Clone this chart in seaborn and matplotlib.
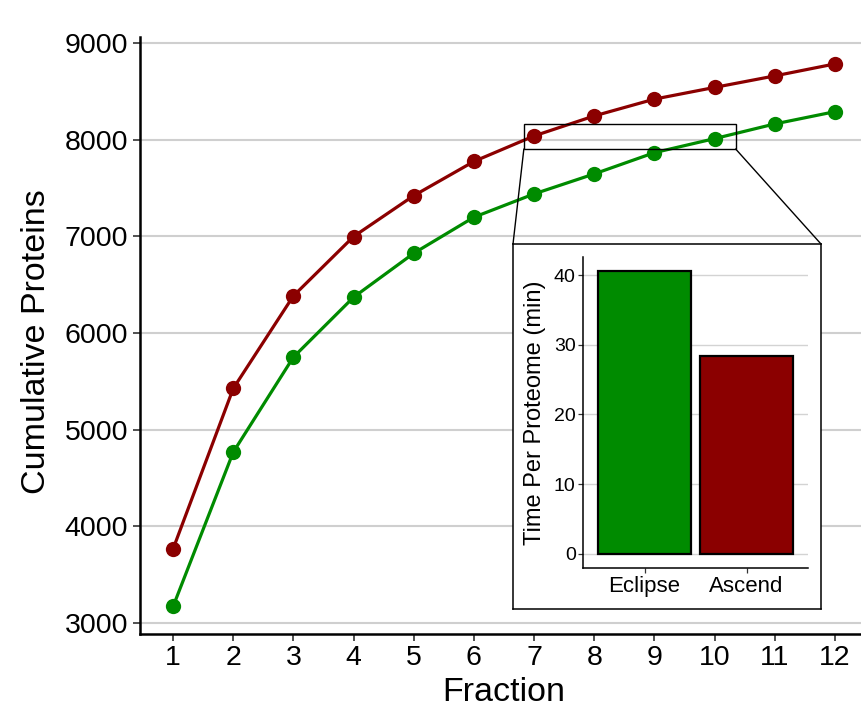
import numpy as np
import pandas as pd
import matplotlib
matplotlib.use("Agg")
import matplotlib.pyplot as plt
import seaborn as sns
from matplotlib.patches import Rectangle, ConnectionPatch

# ---------------- data ----------------
fractions = [1, 2, 3, 4, 5, 6, 7, 8, 9, 10, 11, 12]
ascend_proteins = [3765, 5425, 6383, 6997, 7420, 7774, 8038, 8245, 8419, 8540, 8659, 8783]
eclipse_proteins = [3169, 4766, 5749, 6369, 6824, 7197, 7438, 7645, 7865, 8010, 8162, 8289]
instruments = ["Eclipse", "Ascend"]
time_per_proteome = [40.6, 28.4]

GREEN = "#008B00"
RED = "#8B0000"

df = pd.DataFrame({
    "Fraction": fractions * 2,
    "Proteins": eclipse_proteins + ascend_proteins,
    "Instrument": ["Eclipse"] * len(fractions) + ["Ascend"] * len(fractions),
})
bar_df = pd.DataFrame({"Instrument": instruments, "Time": time_per_proteome})

sns.set_style("ticks")
plt.rcParams["font.family"] = ["Liberation Sans", "DejaVu Sans"]
plt.rcParams["text.color"] = "black"
plt.rcParams["axes.labelcolor"] = "black"

W, H = 861, 716
fig = plt.figure(figsize=(W / 100, H / 100), dpi=100)
fig.patch.set_facecolor("white")

def fx(px):
    return px / W

def fy(py):
    return 1 - py / H

# ---------------- main axes ----------------
L, R, T, B = 140, 868, 36.8, 633.6
ax = fig.add_axes([fx(L), fy(B), fx(R - L), (B - T) / H])

sns.lineplot(data=df, x="Fraction", y="Proteins", hue="Instrument",
             palette={"Eclipse": GREEN, "Ascend": RED}, marker="o",
             markersize=11, markeredgewidth=0, linewidth=2.3,
             legend=False, ax=ax, zorder=3)

allv = np.array(eclipse_proteins + ascend_proteins)
pad = 0.05 * (allv.max() - allv.min())
ax.set_ylim(allv.min() - pad, allv.max() + pad)
ax.set_xlim(0.45, 12.55)
ax.set_xticks(fractions)
ax.set_yticks([3000, 4000, 5000, 6000, 7000, 8000, 9000])
ax.yaxis.grid(True, color="#CFCFCF", linewidth=1.5)
ax.set_axisbelow(True)
for s in ["top", "right"]:
    ax.spines[s].set_visible(False)
for s in ["left", "bottom"]:
    ax.spines[s].set_linewidth(1.8)
    ax.spines[s].set_color("black")
ax.tick_params(axis="both", length=5, width=1.2, color="#333333",
               labelsize=20.5, labelcolor="black", pad=3.5)
ax.set_xlabel("Fraction", fontsize=24.5, color="black")
ax.set_ylabel("Cumulative Proteins", fontsize=24.5, va="center", color="black")
ax.yaxis.set_label_coords((37 - L) / (R - L), 0.49)
ax.xaxis.set_label_coords(0.5, (B - 677) / (B - T))

# zoom rectangle on main axes (layout, in data units)
zx0, zx1, zy0, zy1 = 6.83, 10.35, 7903, 8159
ax.add_patch(Rectangle((zx0, zy0), zx1 - zx0, zy1 - zy0, fill=False,
                       edgecolor="black", linewidth=1.0, zorder=5))

# ---------------- inset box ----------------
bx0, bx1, by0, by1 = 513, 821, 244, 609
box = fig.add_axes([fx(bx0), fy(by1), fx(bx1 - bx0), (by1 - by0) / H])
box.set_xticks([])
box.set_yticks([])
box.set_facecolor("white")
for s in box.spines.values():
    s.set_linewidth(1.1)
    s.set_color("black")
box.set_zorder(5)

for (xa, ya), (xb, yb) in [((zx0, zy0), (bx0, by0)), ((zx1, zy0), (bx1, by0))]:
    cp = ConnectionPatch(xyA=(xa, ya), coordsA=ax.transData,
                         xyB=(fx(xb), fy(yb)), coordsB=fig.transFigure,
                         color="black", linewidth=1.0, zorder=6)
    fig.add_artist(cp)

# ---------------- inset bar axes ----------------
iL, iR, iT, iB = 583.3, 807.7, 256.7, 568
axin = fig.add_axes([fx(iL), fy(iB), fx(iR - iL), (iB - iT) / H])
axin.set_zorder(6)
sns.barplot(data=bar_df, x="Instrument", y="Time", hue="Instrument",
            palette={"Eclipse": GREEN, "Ascend": RED}, order=instruments,
            saturation=1, edgecolor="black", linewidth=1.6, width=0.91,
            legend=False, ax=axin, zorder=3)
tmax = max(time_per_proteome)
axin.set_ylim(-0.05 * tmax, tmax * 1.05)
axin.set_xlim(-0.6, 1.6)
axin.set_yticks([0, 10, 20, 30, 40])
axin.yaxis.grid(True, color="#D3D3D3", linewidth=1.0)
axin.set_axisbelow(True)
for s in ["top", "right"]:
    axin.spines[s].set_visible(False)
for s in ["left", "bottom"]:
    axin.spines[s].set_linewidth(1.1)
    axin.spines[s].set_color("black")
axin.tick_params(axis="y", length=3.5, width=0.9, color="#333333",
                 labelsize=14, labelcolor="black", pad=2)
axin.tick_params(axis="x", length=3.5, width=0.9, color="#333333",
                 labelsize=16, labelcolor="black", pad=2.5)
axin.set_xlabel("")
axin.set_ylabel("Time Per Proteome (min)", fontsize=17, va="center", color="black")
axin.yaxis.set_label_coords((535 - iL) / (iR - iL), 0.5)

fig.savefig("out.png", dpi=100, facecolor="white")
